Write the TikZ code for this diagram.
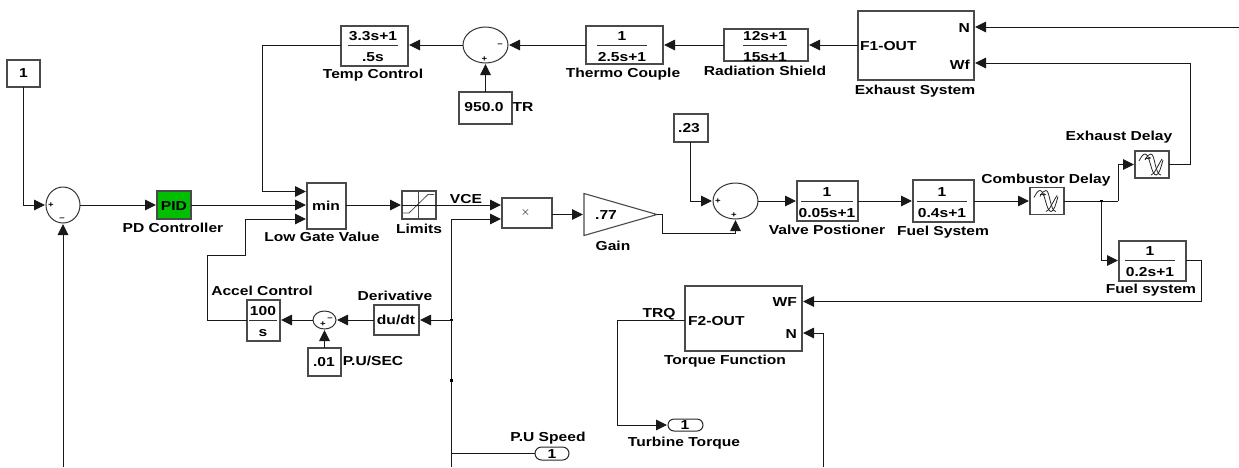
\documentclass[tikz,border=0pt]{standalone}
\usepackage{fontspec}
\setmainfont{Liberation Sans}[FakeStretch=1.2]
\usetikzlibrary{arrows.meta,shapes.geometric,shapes.misc}
\definecolor{edgegray}{HTML}{4A4A4A}
\tikzset{
  box/.style={draw=edgegray,line width=1.1pt,inner sep=0pt,outer sep=0pt,rectangle},
  sumb/.style={draw=black!80,line width=1pt,inner sep=0pt,outer sep=0pt,ellipse},
  port/.style={draw=black!85,line width=1pt,inner sep=0pt,outer sep=0pt,rounded rectangle},
  txt/.style={font=\bfseries\fontsize{13}{13}\selectfont,inner sep=0pt,anchor=base},
  sgn/.style={font=\bfseries\fontsize{8}{8}\selectfont,inner sep=0pt},
  wire/.style={draw=black!90,line width=1pt},
  arr/.style={wire,-{Triangle[length=11pt,width=10.5pt]},shorten >=1pt},
  fline/.style={draw=black!80,line width=.8pt},
  dot/.style={fill=black,inner sep=0pt,minimum size=2.6pt,rectangle},
  wave/.style={draw=black!85,line width=.8pt},
}
% name x1 y1 x2 y2 extra-style
\newcommand\blk[6][box]{\node[#1,minimum width={(#5-#3)*1pt},minimum height={(#6-#4)*1pt}] (#2) at ({(#3+#5)/2},{(#4+#6)/2}) {};}
\newcommand\tx[4]{\node[txt] (#1) at (#2,{#3+4.7}) {#4};}
\newcommand\frcat[6]{% name x ybar num den halfwidth
  \tx{#1-num}{#2}{#3-9.5}{#4}
  \tx{#1-den}{#2}{#3+11.5}{#5}
  \coordinate (#1-l) at ({#2-#6},#3);
  \coordinate (#1-r) at ({#2+#6},#3);
  \draw[fline] (#1-l) -- (#1-r);}
% delay icon
\newcommand\delayicon[1]{%
  \begin{scope}[shift={(#1.north west)}]
    \draw[wave] (4,10) .. controls (6,6) and (8,3) .. (10,3) .. controls (15,3) and (16,24) .. (21,24) .. controls (24,24) and (26,16) .. (28,9);
    \draw[wave] (10,9) .. controls (12,5) and (14,3) .. (16,3) .. controls (20,3) and (20,24) .. (26,24);
    \draw[wave] (16,24) .. controls (19,24) and (23,14) .. (27,8);
    \draw[black!85,line width=.6pt,-{Stealth[length=2.5pt,width=2.5pt]}] (10,7) -- (16,7);
  \end{scope}}
\begin{document}
\begin{tikzpicture}[x=1pt,y=-1pt]
\useasboundingbox (0,0) rectangle (1239,467);
% blocks
\blk{cone}{7}{60}{40}{87}
\tx{cone-t}{23.5}{73}{1}
\blk[sumb]{sa}{46}{187}{80}{223}
\node[sgn] (sa-p) at (51,205) {+};
\node[sgn] (sa-m) at (62,219) {--};
\blk[box,fill={rgb,255:red,0;green,190;blue,0}]{pid}{157}{191}{191}{219}
\tx{pid-t}{174}{205.5}{PID}
\tx{pid-l}{173}{228}{PD Controller}
\blk{mn}{307}{183}{346}{229}
\tx{mn-t}{326}{205.5}{min}
\tx{mn-l}{322}{237}{Low Gate Value}
\blk{lim}{402}{191}{436}{219}
\tx{lim-l}{419}{229}{Limits}
\blk{tc}{341}{26}{408}{66}
\frcat{tc}{373}{45}{3.3s+1}{.5s}{25}
\tx{tc-lb}{373}{74}{Temp Control}
\blk[sumb]{sb}{463}{27}{508}{63}
\node[sgn] (sb-m) at (500,45) {--};
\node[sgn] (sb-p) at (484.5,59) {+};
\blk{thermo}{586}{26}{663}{64}
\frcat{thermo}{622}{45}{1}{2.5s+1}{25}
\tx{thermo-lb}{623}{72.5}{Thermo Couple}
\blk{rad}{724}{29}{808}{61}
\frcat{rad}{765}{45}{12s+1}{15s+1}{22}
\tx{rad-lb}{765}{71}{Radiation Shield}
\blk{exh}{858}{11}{974}{80}
\tx{exh-lb}{915}{90}{Exhaust System}
\node[txt,anchor=base west] (exh-f) at (860,50) {F1-OUT};
\node[txt,anchor=base east] (exh-n) at (970,32) {N};
\node[txt,anchor=base east] (exh-w) at (970,69) {Wf};
\blk{tr}{459}{92}{512}{124}
\tx{tr-t}{484}{107}{950.0}
\tx{tr-l}{523}{107}{TR}
\blk{ptt}{674}{114}{708}{142}
\tx{ptt-t}{689}{128}{.23}
\blk{mul}{502}{198}{552}{228}
\node[font=\fontsize{13}{13}\selectfont,inner sep=0pt] (mul-t) at (525.5,212) {$\times$};
\tx{vce}{466}{199}{VCE}
\coordinate (gl) at (584,214.5);
\coordinate (gt) at (584,193.5);
\coordinate (gb) at (584,235.5);
\coordinate (gr) at (657,214.5);
\draw[edgegray,line width=1.1pt] (gt) -- (gr) -- (gb) -- cycle;
\tx{gain-t}{606}{214.5}{.77}
\tx{gain-l}{613}{246}{Gain}
\blk[sumb]{sc}{713}{183}{758}{219}
\node[sgn] (sc-a) at (718,201) {+};
\node[sgn] (sc-b) at (734,215) {+};
\blk{valve}{797}{181}{858}{221}
\frcat{valve}{827}{201}{1}{0.05s+1}{26}
\tx{valve-lb}{827}{230}{Valve Postioner}
\blk{fuel}{913}{180}{974}{222}
\frcat{fuel}{942}{201}{1}{0.4s+1}{25}
\tx{fuel-lb}{943}{231}{Fuel System}
\blk{comb}{1030}{187.5}{1064}{214.5}
\tx{comb-l}{1046}{179}{Combustor Delay}
\delayicon{comb}
\blk{exd}{1135}{151}{1169}{178}
\tx{exd-l}{1119}{136}{Exhaust Delay}
\delayicon{exd}
\blk{fs}{1119}{241}{1186}{281}
\frcat{fs}{1150}{260.5}{1}{0.2s+1}{25}
\tx{fs-lb}{1151}{289}{Fuel system}
\blk{tq}{685}{286}{802}{351}
\tx{tq-lb}{725}{360}{Torque Function}
\node[txt,anchor=base west] (tq-f) at (688,325.7) {F2-OUT};
\node[txt,anchor=base east] (tq-w) at (797,306.7) {WF};
\node[txt,anchor=base east] (tq-n) at (797,338.7) {N};
\tx{trq}{659}{313}{TRQ}
\blk[port]{outb}{668}{419}{703}{431}
\tx{outb-t}{685}{425}{1}
\tx{outb-l}{684}{442}{Turbine Torque}
\blk[port]{outa}{535}{447}{569}{460}
\tx{outa-t}{552}{453.5}{1}
\tx{outa-l}{548}{437}{P.U Speed}
\blk{acc}{247}{300}{280}{341}
\frcat{acc}{263}{320}{100}{s}{14}
\tx{acc-l}{262}{290.5}{Accel Control}
\blk[sumb]{sd}{313}{311}{336}{329}
\node[sgn] (sd-p) at (323,324.5) {+};
\node[sgn] (sd-m) at (330,319) {--};
\blk{du}{374}{305}{419}{335}
\tx{du-t}{396}{320}{du/dt}
\tx{du-l}{395}{296}{Derivative}
\blk{pz}{308}{348}{341}{376}
\tx{pz-t}{324}{362}{.01}
\tx{pz-l}{373}{361}{P.U/SEC}
% limits icon
\coordinate (lim-v1) at (418,191);
\coordinate (lim-v2) at (418,219);
\coordinate (lim-c1) at (403,213);
\coordinate (lim-c2) at (409,213);
\coordinate (lim-c3) at (428,194.5);
\coordinate (lim-c4) at (434,194.5);
\draw[edgegray,line width=.8pt] (lim-v1) -- (lim-v2);
\draw[edgegray,line width=.8pt] (lim-c1) -- (lim-c2) -- (lim-c3) -- (lim-c4);
% free ends and bends
\coordinate (conex) at (23.5,0);
\coordinate (pttx) at (690,0);
\coordinate (spd-b) at (63,467);
\coordinate (nrt) at (1239,27);
\coordinate (tq-nb) at (823,467);
\coordinate (busb) at (451.5,467);
\coordinate (bust) at (451.5,219);
\coordinate (busj1) at (451.5,320);
\coordinate (busj2) at (451.5,380.5);
\coordinate (busj3) at (451.5,453.5);
\coordinate (tcb) at (262,45);
\coordinate (mna) at (307,191.5);
\coordinate (mnc) at (307,219);
\coordinate (ac1) at (245.5,219);
\coordinate (ac2) at (245.5,255.5);
\coordinate (ac3) at (207,255.5);
\coordinate (ac4) at (207,320);
\coordinate (muu) at (502,205);
\coordinate (mul2) at (502,219);
\coordinate (gout1) at (662,214.5);
\coordinate (gout2) at (662,233);
\coordinate (gout3) at (sc.south |- gout2);
\coordinate (cj) at (1101.5,201);
\coordinate (cup1) at (1118,201);
\coordinate (cup2) at (1118,164.5);
\coordinate (exd1) at (1190,164.5);
\coordinate (exd2) at (1190,63);
\coordinate (exw) at (974,63);
\coordinate (cdn) at (1101.5,260.5);
\coordinate (fs1) at (1201,260.5);
\coordinate (fs2) at (1201,301.5);
\coordinate (tqw) at (802,301.5);
\coordinate (tqn) at (802,333);
\coordinate (tqf) at (685,320);
\coordinate (tq1) at (617.5,320);
\coordinate (tq2) at (617.5,425);
\coordinate (tre) at (exh.east |- nrt);
% connectors
\draw[arr] (cone.south -| conex) |- (sa.west);
\draw[arr] (spd-b) -- (spd-b |- sa.south);
\draw[arr] (sa.east) -- (sa.east -| pid.west);
\draw[arr] (pid.east) -- (pid.east -| mn.west);
\draw[arr] (tc.west |- tcb) -- (tcb) |- (mna);
\draw[arr] (ac4) -- (ac3) -- (ac2) -- (ac1) -- (mnc);
\draw[wire] (acc.west |- ac4) -- (ac4);
\draw[arr] (mn.east |- lim.west) -- (lim.west);
\draw[wire] (lim.west) -- (lim.east);
\draw[arr] (lim.east) -- (muu);
\draw[arr] (bust) -- (mul2);
\draw[wire,line width=1.2pt] (busb) -- (bust);
\node[dot] (dj1) at (busj1) {};
\node[dot] (dj2) at (busj2) {};
\draw[arr] (busj1) -- (du.east |- busj1);
\draw[wire] (busj3) -- (busj3 -| outa.west);
\draw[arr] (du.west |- sd.east) -- (sd.east);
\draw[arr] (sd.west) -- (sd.west -| acc.east);
\draw[arr] (pz.north -| sd.south) -- (sd.south);
\draw[arr] (sb.west) -- (sb.west -| tc.east);
\draw[arr] (thermo.west) -- (thermo.west -| sb.east);
\draw[arr] (rad.west) -- (rad.west -| thermo.east);
\draw[arr] (exh.west |- rad.west) -- (rad.east);
\draw[arr] (tr.north -| sb.south) -- (sb.south);
\draw[arr] (mul.east |- gl) -- (gl);
\draw[arr] (gr) -- (gout1) -- (gout2) -- (gout3) -- (sc.south);
\draw[arr] (ptt.south -| pttx) |- (sc.west);
\draw[arr] (sc.east) -- (sc.east -| valve.west);
\draw[arr] (valve.east) -- (valve.east -| fuel.west);
\draw[arr] (fuel.east) -- (fuel.east -| comb.west);
\draw[wire] (comb.east |- cj) -- (cup1);
\draw[arr] (cup1) -- (cup2) -- (exd.west |- cup2);
\draw[arr] (exd.east |- exd1) -- (exd1) -- (exd2) -- (exw);
\node[dot] (dj3) at (cj) {};
\draw[arr] (cj) -- (cdn) -- (fs.west |- cdn);
\draw[arr] (fs.east |- fs1) -- (fs1) -- (fs2) -- (tqw);
\draw[arr] (tq-nb) -- (tqn -| tq-nb) -- (tqn);
\draw[arr] (nrt) -- (tre);
\draw[arr] (tqf) -- (tq1) -- (tq2) -- (tq2 -| outb.west);
\end{tikzpicture}
\end{document}
